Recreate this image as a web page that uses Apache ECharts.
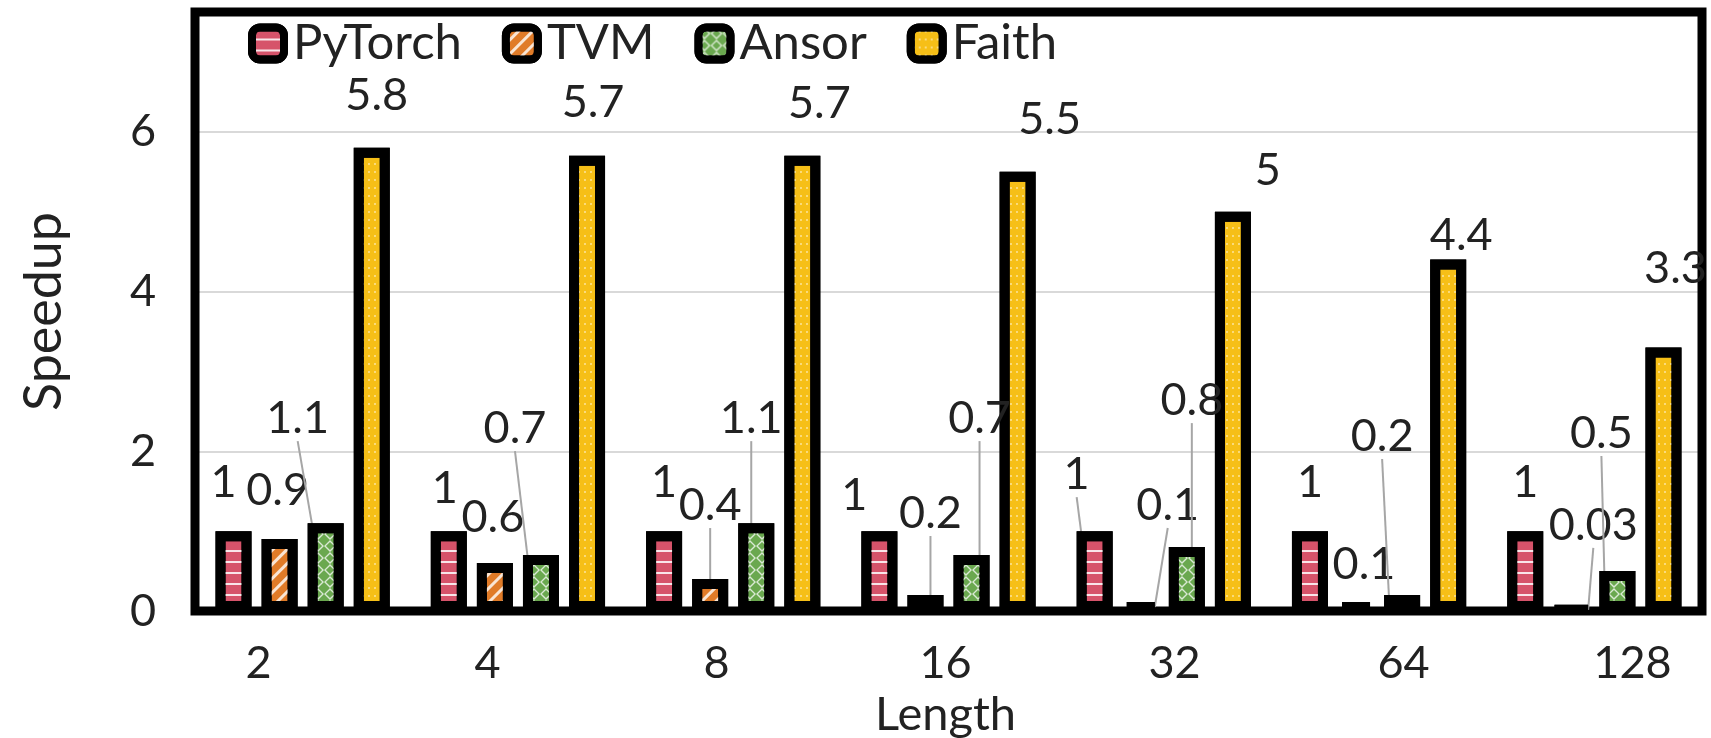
<!DOCTYPE html>
<html>
<head>
<meta charset="utf-8">
<script src="https://cdn.jsdelivr.net/npm/echarts@6/dist/echarts.min.js"></script>
<style>
  html, body { margin: 0; padding: 0; background: #fff; }
  #chart { width: 1711px; height: 738px; }
</style>
</head>
<body>
<div id="chart"></div>
<script>
const lengths = ["2", "4", "8", "16", "32", "64", "128"];
const pytorch = [1, 1, 1, 1, 1, 1, 1];
const tvm = [0.9, 0.6, 0.4, 0.2, 0.1, 0.1, 0.03];
const ansor = [1.1, 0.7, 1.1, 0.7, 0.8, 0.2, 0.5];
const faith = [5.8, 5.7, 5.7, 5.5, 5, 4.4, 3.3];

// label nudges (px) and which labels get a leader line, per series
const pytorchShift = [[-10, 0], [-4, 6], [0, 0], [-25, 13], [-18, -8], [0, 0], [0, 0]];
const tvmShift = [[-2, 0], [-2, 3], [0, -25], [5, -33], [27, -48], [8, 11], [22, -31]];
const ansorShift = [[-28, -56], [-26, -78], [-5, -56], [8, -88], [5, -98], [-20, -110], [-16, -89]];
const faithShift = [[5, -4], [6, -5], [17, -4], [32, -4], [35, 7], [13, 24], [12, -30]];
const pytorchLine = [0, 0, 0, 0, 1, 0, 0];
const tvmLine = [0, 0, 1, 1, 1, 0, 1];
const ansorLine = [1, 1, 1, 1, 1, 1, 1];
const faithLine = [0, 0, 0, 0, 0, 0, 0];

const font = "Lato";
const textColor = "#222";

function makeSeries(name, values, color, decal, shift, lines, z) {
  return {
    name,
    type: "bar",
    z,
    barWidth: 36,
    barGap: "28%",
    data: values.map((v, i) => ({ value: v, labelLine: { show: !!lines[i] } })),
    itemStyle: { color, borderColor: "#000", borderWidth: 10, decal },
    label: {
      show: true,
      position: "top",
      distance: 26,
      color: textColor,
      fontFamily: font,
      fontSize: 45
    },
    labelLine: { lineStyle: { color: "#a6a6a6", width: 2 } },
    labelLayout: params => ({ dx: shift[params.dataIndex][0], dy: shift[params.dataIndex][1] })
  };
}

const chart = echarts.init(document.getElementById("chart"));
chart.setOption({
  animation: false,
  aria: { enabled: false, decal: { show: true } },
  textStyle: { fontFamily: font },
  legend: {
    left: 243,
    top: 14,
    itemWidth: 32,
    itemHeight: 32,
    itemGap: 40,
    icon: "roundRect",
    itemStyle: { borderWidth: 8 },
    textStyle: { fontSize: 49, color: textColor, fontFamily: font, padding: [0, 0, 0, 4] }
  },
  grid: [
    {
      show: true,
      z: 1,
      left: 195,
      right: 9,
      top: 12,
      bottom: 127,
      outerBoundsMode: "none",
      borderColor: "#000",
      borderWidth: 9
    },
    // the tick labels of the original sit on a slightly wider spacing than the bars
    { left: 144, width: 1603, top: 12, bottom: 127, outerBoundsMode: "none" }
  ],
  xAxis: [
    {
      type: "category",
      data: lengths,
      axisTick: { show: false },
      axisLine: { lineStyle: { color: "#000", width: 4 } },
      axisLabel: { show: false }
    },
    {
      type: "category",
      gridIndex: 1,
      data: lengths,
      name: "Length",
      nameLocation: "middle",
      nameGap: 71,
      nameTextStyle: { fontSize: 47, color: textColor, fontFamily: font },
      axisTick: { show: false },
      axisLine: { show: false },
      axisLabel: { fontSize: 45, color: textColor, margin: 30, fontFamily: font }
    }
  ],
  yAxis: [
    {
      type: "value",
      min: 0,
      max: 7.5,
      interval: 2,
      name: "Speedup",
      nameLocation: "middle",
      nameGap: 125,
      nameTextStyle: { fontSize: 52, color: textColor, fontFamily: font },
      axisLine: { show: false },
      axisTick: { show: false },
      axisLabel: { fontSize: 45, color: textColor, margin: 39, fontFamily: font, showMaxLabel: false },
      splitLine: { lineStyle: { color: "#d9d9d9", width: 2 } }
    },
    { type: "value", gridIndex: 1, min: 0, max: 7.5, show: false }
  ],
  series: [
    makeSeries("PyTorch", pytorch, "#d6536a",
      { symbol: "rect", symbolSize: 1, dashArrayX: [1, 0], dashArrayY: [2, 9], color: "rgba(255,255,255,0.85)" },
      pytorchShift, pytorchLine, 2),
    makeSeries("TVM", tvm, "#e07b28",
      { symbol: "rect", symbolSize: 1, dashArrayX: [1, 0], dashArrayY: [3, 7], rotation: -Math.PI / 4, color: "rgba(255,255,255,0.8)" },
      tvmShift, tvmLine, 2),
    makeSeries("Ansor", ansor, "#6aa84f",
      { symbol: "path://M5,0L10,5L5,10L0,5Z M5,1.6L1.6,5L5,8.4L8.4,5Z", symbolSize: 1, dashArrayX: [12, 0], dashArrayY: [12, 0], color: "rgba(255,255,255,0.75)" },
      ansorShift, ansorLine, 3),
    makeSeries("Faith", faith, "#f6bf17",
      { symbol: "circle", symbolSize: 0.35, dashArrayX: [6, 0], dashArrayY: [8, 0], color: "rgba(255,255,255,0.55)" },
      faithShift, faithLine, 2)
  ]
});
</script>
</body>
</html>
